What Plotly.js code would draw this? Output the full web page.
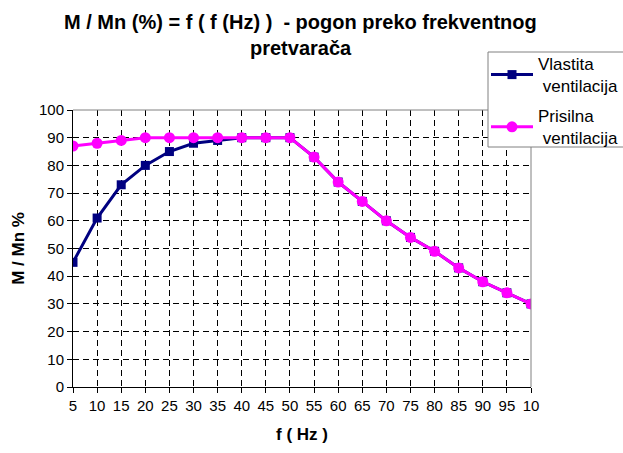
<!DOCTYPE html>
<html>
<head>
<meta charset="utf-8">
<script src="https://cdn.plot.ly/plotly-3.0.1.min.js"></script>
<style>html,body{margin:0;padding:0;background:#fff;}#chart{width:623px;height:453px;}</style>
</head>
<body>
<div id="chart"></div>
<script>
var freq = [5,10,15,20,25,30,35,40,45,50,55,60,65,70,75,80,85,90,95,100];
var tickLabels = ['5','10','15','20','25','30','35','40','45','50','55','60','65','70','75','80','85','90','95','10'];
var vlastita = [45,61,73,80,85,88,89,90,90,90,83,74,67,60,54,49,43,38,34,30];
var prisilna = [87,88,89,90,90,90,90,90,90,90,83,74,67,60,54,49,43,38,34,30];
var titleLines = ['M / Mn (%) = f ( f (Hz) )  - pogon preko frekventnog', 'pretvarača'];

var FONT = 'Liberation Sans, Arial, sans-serif';
// plot area: x 73..531 px, y 110..387 px
function py(pix) { return (387 - pix) / 277; }
function px(pix) { return (pix - 73) / 458; }

var traces = [
  {x: freq, y: vlastita, name: 'Vlastita<br>\u00a0ventilacija', type: 'scatter', mode: 'lines+markers', legendgroup: 'a',
   line: {color: '#000080', width: 3}, marker: {symbol: 'square', size: 9, color: '#000080'}},
  {x: freq, y: prisilna, name: 'Prisilna<br>\u00a0ventilacija', type: 'scatter', mode: 'lines+markers', legendgroup: 'b',
   line: {color: '#FF00FF', width: 3}, marker: {symbol: 'circle', size: 11, color: '#FF00FF'}}
];

var layout = {
  width: 623, height: 453,
  margin: {l: 73, r: 92, t: 110, b: 66, autoexpand: false},
  paper_bgcolor: '#fff', plot_bgcolor: '#fff',
  font: {family: FONT, color: '#000', size: 15},
  xaxis: {range: [5, 100], tickmode: 'array', tickvals: freq, ticktext: tickLabels,
          showgrid: true, gridcolor: '#000', gridwidth: 1, griddash: '6px,4px',
          showline: true, linecolor: '#000', linewidth: 1, ticks: 'outside', ticklen: 5, tickcolor: '#000',
          zeroline: false, tickfont: {size: 15}, fixedrange: true,
          title: {text: '<b>f ( Hz )</b>', font: {size: 17}, standoff: 15}},
  yaxis: {range: [0, 100], dtick: 10, tick0: 0,
          showgrid: true, gridcolor: '#000', gridwidth: 1, griddash: '6px,4px',
          showline: true, linecolor: '#000', linewidth: 1, ticks: 'outside', ticklen: 5, tickcolor: '#000',
          zeroline: false, tickfont: {size: 15}, fixedrange: true,
          title: {text: '<b>M / Mn %</b>', font: {size: 17}, standoff: 10}},
  showlegend: true,
  legend: {x: px(486), y: py(46), xanchor: 'left', yanchor: 'top', bgcolor: 'rgba(0,0,0,0)',
           borderwidth: 0, font: {size: 17}, itemwidth: 42, traceorder: 'grouped', tracegroupgap: 5},
  annotations: [
    {xref: 'paper', yref: 'paper', x: px(300), y: py(22), xanchor: 'center', yanchor: 'middle', showarrow: false,
     text: '<b>' + titleLines[0] + '</b>', font: {size: 20, family: FONT, color: '#000'}},
    {xref: 'paper', yref: 'paper', x: px(301), y: py(48), xanchor: 'center', yanchor: 'middle', showarrow: false,
     text: '<b>' + titleLines[1] + '</b>', font: {size: 20, family: FONT, color: '#000'}}
  ],
  shapes: [
    {type: 'line', xref: 'paper', yref: 'paper', x0: 0, x1: 1, y0: 1, y1: 1, line: {color: '#808080', width: 1}},
    {type: 'line', xref: 'paper', yref: 'paper', x0: 1, x1: 1, y0: 0, y1: 1, line: {color: '#808080', width: 1}},
    {type: 'rect', xref: 'paper', yref: 'paper', x0: px(488), x1: px(630), y0: py(147), y1: py(52),
     fillcolor: '#fff', line: {color: '#808080', width: 1}, layer: 'above'}
  ]
};

Plotly.newPlot('chart', traces, layout, {displayModeBar: false, staticPlot: true});
</script>
</body>
</html>
